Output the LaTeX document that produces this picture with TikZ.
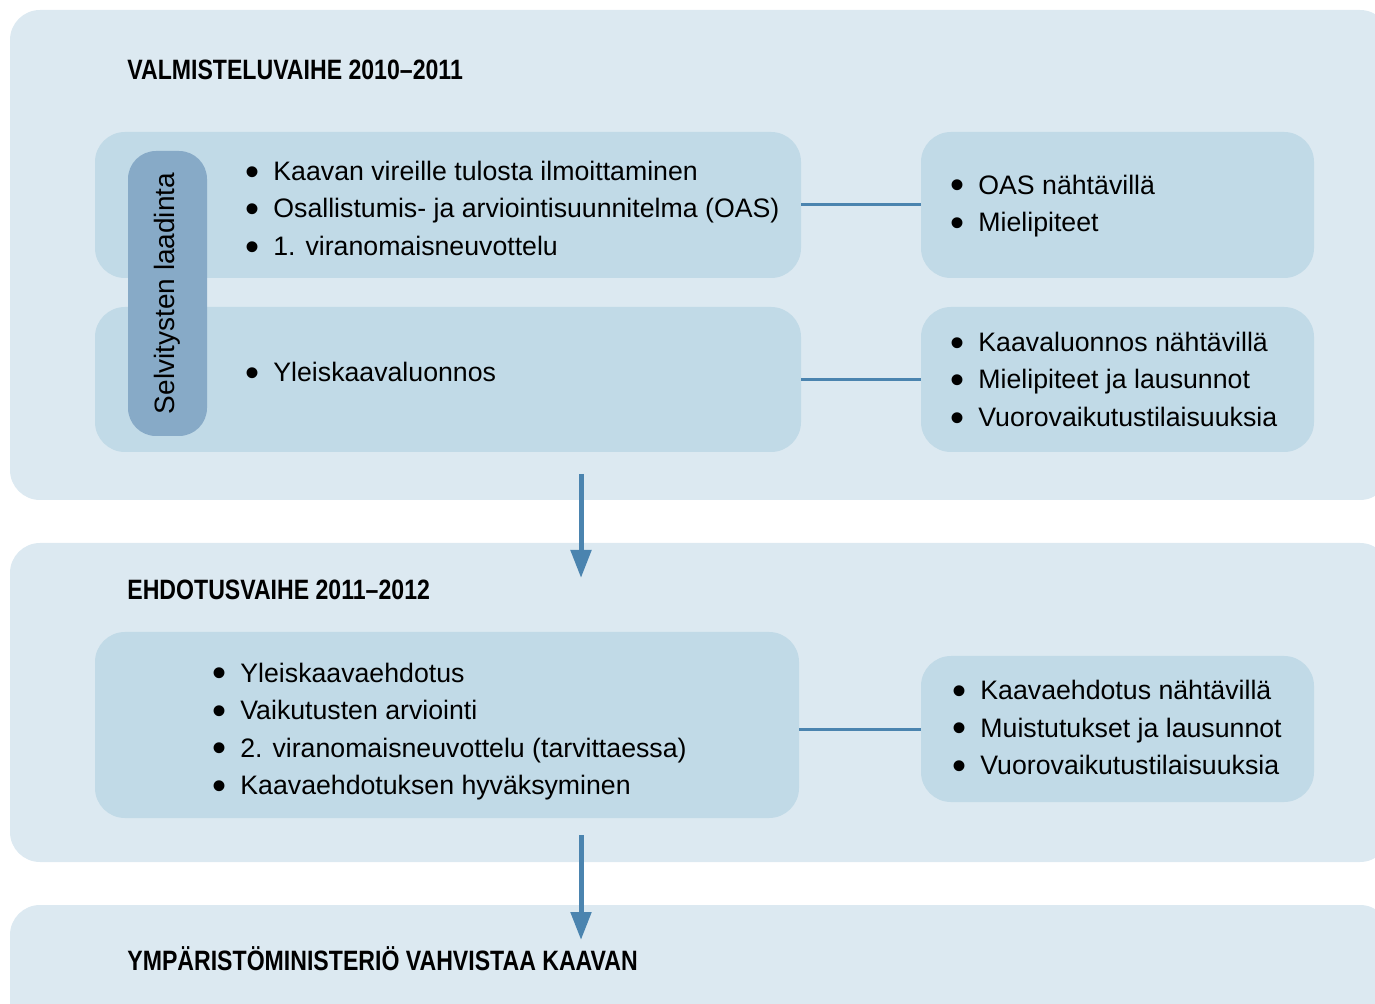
\documentclass[tikz,border=0pt]{standalone}
\usepackage{graphicx}
\usepackage{fontspec}
\setmainfont{Liberation Sans}
\newfontfamily\headfont[FakeStretch=0.825]{Liberation Sans}
\usetikzlibrary{positioning, arrows.meta}

\definecolor{phasebg}{HTML}{DCE9F1}
\definecolor{boxbg}{HTML}{C1DAE7}
\definecolor{pillbg}{HTML}{87AAC7}
\definecolor{linkblue}{HTML}{4B84AF}

\newcommand{\bitem}{\strut\makebox[14pt][l]{\raisebox{-0.17em}{\scalebox{1.5}{\textbullet}}}}

\begin{document}
\begin{tikzpicture}[
	x=0.5pt, y=-0.5pt,
	phase/.style={
		rectangle,
		rounded corners=15pt,
		fill=phasebg,
		anchor=north west,
		inner sep=0pt,
		outer sep=0pt,
		minimum width=690pt
	},
	box/.style={
		rectangle,
		rounded corners=15pt,
		fill=boxbg,
		anchor=north west,
		inner sep=0pt,
		outer sep=0pt
	},
	pill/.style={
		rectangle,
		rounded corners=14pt,
		fill=pillbg,
		inner sep=0pt,
		rotate=90,
		font=\fontsize{14pt}{16pt}\selectfont
	},
	list/.style={
		anchor=west,
		align=left,
		inner sep=0pt,
		font=\fontsize{13.35pt}{18.75pt}\selectfont
	},
	title/.style={
		anchor=base west,
		inner sep=0pt,
		font=\headfont\bfseries\fontsize{14pt}{16pt}\selectfont
	},
	links/.style={
		line width=1.5pt,
		draw=linkblue
	},
	flow/.style={
		line width=2.5pt,
		draw=linkblue,
		-{Triangle[width=10pt, length=14pt, fill=linkblue]}
	}
]
	\useasboundingbox (0,0) rectangle (1375,1004);
	\clip (0,0) rectangle (1375,1004);

	% phases
	\node[phase, minimum height=245pt] (prep) at (10,10) {};
	\node[phase, minimum height=159.5pt] (proposal) at (10,543) {};
	\node[phase, minimum height=80pt] (approval) at (10,905) {};

	\node[title] (prep_title) at (127,80) {VALMISTELUVAIHE 2010–2011};
	\node[title] (proposal_title) at (127,600) {EHDOTUSVAIHE 2011–2012};
	\node[title] (approval_title) at (127,970) {YMPÄRISTÖMINISTERIÖ VAHVISTAA KAAVAN};

	%% preparation
	\node[box, minimum width=353pt, minimum height=73pt] (start_box) at (95,132) {};
	\node[box, minimum width=353pt, minimum height=72.5pt] (draft_box) at (95,307) {};
	\node[box, minimum width=196.5pt, minimum height=73pt] (oas_box) at (921,132) {};
	\node[box, minimum width=196.5pt, minimum height=72.5pt] (draft_view) at (921,307) {};

	\node[pill, minimum width=142.5pt, minimum height=39.5pt] (surveys) at (167.5,293.5) {Selvitysten laadinta};

	\node[list] (start_list) at (245,210.5) {
		\bitem Kaavan vireille tulosta ilmoittaminen\\
		\bitem Osallistumis- ja arviointisuunnitelma (OAS)\\
		\bitem 1. viranomaisneuvottelu
	};
	\node[list] (draft_list) at (245,374) {
		\bitem Yleiskaavaluonnos
	};
	\node[list] (oas_list) at (950,205.5) {
		\bitem OAS nähtävillä\\
		\bitem Mielipiteet
	};
	\node[list] (draft_view_list) at (950,381.5) {
		\bitem Kaavaluonnos nähtävillä\\
		\bitem Mielipiteet ja lausunnot\\
		\bitem Vuorovaikutustilaisuuksia
	};

	%% proposal
	\node[box, minimum width=352pt, minimum height=93pt] (plan_box) at (95,632) {};
	\node[box, minimum width=196.5pt, minimum height=73pt] (plan_view) at (921,656) {};

	\node[list] (plan_list) at (212,731) {
		\bitem Yleiskaavaehdotus\\
		\bitem Vaikutusten arviointi\\
		\bitem 2. viranomaisneuvottelu (tarvittaessa)\\
		\bitem Kaavaehdotuksen hyväksyminen
	};
	\node[list] (plan_view_list) at (952,729.5) {
		\bitem Kaavaehdotus nähtävillä\\
		\bitem Muistutukset ja lausunnot\\
		\bitem Vuorovaikutustilaisuuksia
	};

	\coordinate (flow_one) at (581,474);
	\coordinate (flow_one_end) at (581,578);
	\coordinate (flow_two) at (581,835);
	\coordinate (flow_two_end) at (581,940);

	\draw[links] (start_box.east) -- (oas_box.west);
	\draw[links] (draft_box.east) -- (draft_view.west);
	\draw[links] (plan_box.east |- plan_view.west) -- (plan_view.west);

	\draw[flow] (flow_one) -- (flow_one_end);
	\draw[flow] (flow_two) -- (flow_two_end);
\end{tikzpicture}
\end{document}
